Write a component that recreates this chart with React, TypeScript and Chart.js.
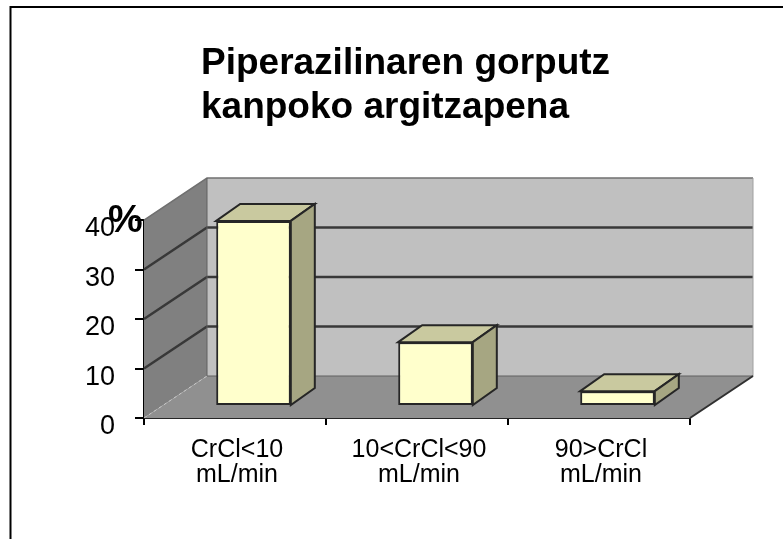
import React, { useEffect, useRef } from "react";
import { Chart, registerables } from "chart.js";

Chart.register(...registerables);

const categories = [["CrCl<10", "mL/min"], ["10<CrCl<90", "mL/min"], ["90>CrCl", "mL/min"]];
const seriesValues = [37.4, 12.9, 3];
const titleLines = ["Piperazilinaren gorputz", "kanpoko argitzapena"];
const axisUnit = "%";
const FONT = "'Liberation Sans', Arial, sans-serif";

const WALL_DX = 63, WALL_DY = 42;
const BAR_SHIFT_X = 18.5, BAR_SHIFT_Y = 12;
const BAR_DX = 24, BAR_DY = 17;

function poly(ctx: CanvasRenderingContext2D, pts: number[][], fill?: string, stroke?: string, lw = 1) {
  ctx.beginPath();
  pts.forEach((p, i) => (i ? ctx.lineTo(p[0], p[1]) : ctx.moveTo(p[0], p[1])));
  ctx.closePath();
  if (fill) { ctx.fillStyle = fill; ctx.fill(); }
  if (stroke) { ctx.strokeStyle = stroke; ctx.lineWidth = lw; ctx.stroke(); }
}

const scene3d = {
  id: "scene3d",
  afterLayout(chart: any) {
    const t = chart.titleBlock;
    if (t) { t.left = 201; t.right = 783; t.top = 42; }
  },
  beforeDraw(chart: any) {
    const { ctx } = chart;
    ctx.save();
    ctx.strokeStyle = "#000";
    ctx.lineWidth = 2;
    ctx.beginPath();
    ctx.moveTo(10.5, 539);
    ctx.lineTo(10.5, 7);
    ctx.lineTo(783, 7);
    ctx.stroke();
    ctx.restore();
  },
  beforeDatasetsDraw(chart: any) {
    const { ctx, chartArea: a, scales } = chart;
    const { left: l, right: r, top: t, bottom: b } = a;
    const dx = WALL_DX, dy = WALL_DY;
    ctx.save();
    poly(ctx, [[l + dx, t - dy], [r + dx, t - dy], [r + dx, b - dy], [l + dx, b - dy]], "#C0C0C0");
    poly(ctx, [[l, b], [l + dx, b - dy], [l + dx, t - dy], [l, t]], "#808080");
    poly(ctx, [[l, b], [r, b], [r + dx, b - dy], [l + dx, b - dy]], "#909090");
    ctx.lineWidth = 2.5;
    ctx.strokeStyle = "#383838";
    scales.y.ticks.forEach((tk: any) => {
      if (tk.value === 0 || tk.value === 40) return;
      const y = scales.y.getPixelForValue(tk.value);
      ctx.beginPath();
      ctx.moveTo(l, y);
      ctx.lineTo(l + dx, y - dy);
      ctx.lineTo(r + dx, y - dy);
      ctx.stroke();
    });
    ctx.lineWidth = 1.5;
    ctx.strokeStyle = "#707070";
    ctx.beginPath();
    ctx.moveTo(l, t);
    ctx.lineTo(l + dx, t - dy);
    ctx.lineTo(r + dx, t - dy);
    ctx.stroke();
    ctx.lineWidth = 1;
    ctx.strokeStyle = "#a0a0a0";
    ctx.beginPath();
    ctx.moveTo(r + dx, t - dy);
    ctx.lineTo(r + dx, b - dy);
    ctx.stroke();
    ctx.strokeStyle = "#606060";
    ctx.beginPath();
    ctx.moveTo(l + dx, t - dy);
    ctx.lineTo(l + dx, b - dy);
    ctx.lineTo(r + dx, b - dy);
    ctx.stroke();
    ctx.setLineDash([3, 3]);
    ctx.strokeStyle = "#c8c8c8";
    ctx.beginPath();
    ctx.moveTo(l, b);
    ctx.lineTo(l + dx, b - dy);
    ctx.stroke();
    ctx.setLineDash([]);
    ctx.lineWidth = 2;
    ctx.strokeStyle = "#303030";
    ctx.beginPath();
    ctx.moveTo(r, b);
    ctx.lineTo(r + dx, b - dy);
    ctx.stroke();
    ctx.restore();
  },
  beforeDatasetDraw(chart: any, args: any) {
    const { ctx } = chart;
    ctx.save();
    ctx.translate(BAR_SHIFT_X, -BAR_SHIFT_Y);
    args.meta.data.forEach((bar: any) => {
      const L = bar.x - bar.width / 2, R = bar.x + bar.width / 2, T = bar.y, B = bar.base;
      poly(ctx, [[L, T], [L + BAR_DX, T - BAR_DY], [R + BAR_DX, T - BAR_DY], [R, T]], "#C9C99F", "#262626", 2);
      poly(ctx, [[R, T], [R + BAR_DX, T - BAR_DY], [R + BAR_DX, B - BAR_DY], [R, B]], "#A6A682", "#262626", 2);
    });
  },
  afterDatasetDraw(chart: any) {
    chart.ctx.restore();
  },
  afterDraw(chart: any) {
    const { ctx } = chart;
    ctx.save();
    ctx.fillStyle = "#000";
    ctx.font = `bold 39px ${FONT}`;
    ctx.textAlign = "left";
    ctx.textBaseline = "alphabetic";
    ctx.fillText(axisUnit, 108, 232);
    ctx.restore();
  },
};

export default function App() {
  const ref = useRef<HTMLCanvasElement>(null);
  useEffect(() => {
    const chart = new Chart(ref.current!, {
      type: "bar",
      data: {
        labels: categories,
        datasets: [{
          data: seriesValues,
          backgroundColor: "#FFFFCC",
          borderColor: "#262626",
          borderWidth: 2,
          borderSkipped: false,
          categoryPercentage: 0.41,
          barPercentage: 1,
          clip: false,
        }],
      },
      options: {
        responsive: false,
        animation: false,
        layout: { padding: { left: 0, right: 93, top: 132.7, bottom: 0 } },
        plugins: {
          legend: { display: false },
          tooltip: { enabled: false },
          title: {
            display: true,
            text: titleLines,
            align: "start",
            color: "#000",
            padding: 0,
            font: { family: FONT, size: 37, weight: "bold", lineHeight: 1.18 },
          },
        },
        scales: {
          x: {
            type: "category",
            offset: true,
            afterFit: (s: any) => { s.height = 121; },
            grid: { display: true, offset: true, drawOnChartArea: false, drawTicks: true, tickLength: 7, color: "#000", lineWidth: 2 },
            border: { display: true, color: "#262626", width: 2 },
            ticks: { color: "#000", maxRotation: 0, autoSkip: false, padding: 13, labelOffset: 2, font: { family: FONT, size: 25, lineHeight: 1 } },
          },
          y: {
            min: 0,
            max: 40,
            afterFit: (s: any) => { s.width = 144; },
            grid: { display: true, drawOnChartArea: false, drawTicks: true, tickLength: 9, color: "#000", lineWidth: 2 },
            border: { display: true, color: "#000", width: 2 },
            ticks: { stepSize: 10, color: "#000", padding: 20, labelOffset: 9, font: { family: FONT, size: 27 } },
          },
        },
      },
      plugins: [scene3d],
    } as any);
    return () => chart.destroy();
  }, []);
  return (
    <canvas
      ref={ref}
      width={783}
      height={539}
      style={{ position: "fixed", left: 0, top: 0, width: 783, height: 539, filter: "blur(0.4px)" }}
    />
  );
}
